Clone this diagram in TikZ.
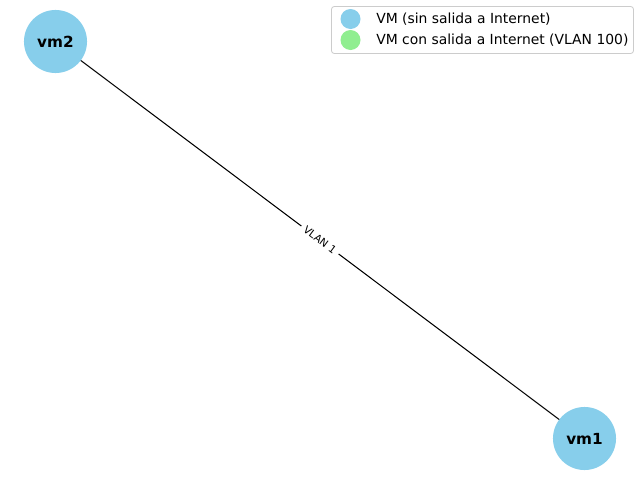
\documentclass[tikz,border=0pt]{standalone}
\usepackage{fontspec}
\setmainfont{DejaVu Sans}
\usetikzlibrary{positioning}
\definecolor{skyblue}{HTML}{87CEEB}
\definecolor{lightgreen}{HTML}{90EE90}
\definecolor{framegray}{HTML}{CCCCCC}

\tikzset{
	vm/.style={circle, fill=skyblue, minimum size=45.4pt, inner sep=0pt, font=\fontsize{11}{13}\selectfont\bfseries},
	link/.style={black, line width=0.75pt},
	vlan/.style={fill=white, inner xsep=3pt, inner ysep=1pt, font=\fontsize{7.5}{9}\selectfont},
	legmark/.style={circle, minimum size=14.4pt, inner sep=0pt},
	entry/.style={right, inner sep=0pt, font=\fontsize{10}{12}\selectfont}
}

\begin{document}
\begin{tikzpicture}[x=0.72pt, y=-0.72pt]
				\useasboundingbox (0,0) rectangle (640,480);
				\coordinate (p2) at (55.5,41.5);
				\coordinate (p1) at (584.5,438.5);
				\draw[link] (p2) -- node[vlan, sloped] {VLAN 1} (p1);
				\node[vm] (vm2) at (p2) {vm2};
				\node[vm] (vm1) at (p1) {vm1};
				% legend
				\draw[framegray, fill=white, rounded corners=2pt, line width=0.6pt] (331.5,6.5) rectangle (633.5,53.5);
				\node[legmark, fill=skyblue] (m1) at (350.5,19) {};
				\node[legmark, fill=lightgreen] (m2) at (350.5,40) {};
				\node[entry] (t1) at (376,19) {VM (sin salida a Internet)};
				\node[entry] (t2) at (376,40) {VM con salida a Internet (VLAN 100)};
			\end{tikzpicture}
\end{document}
